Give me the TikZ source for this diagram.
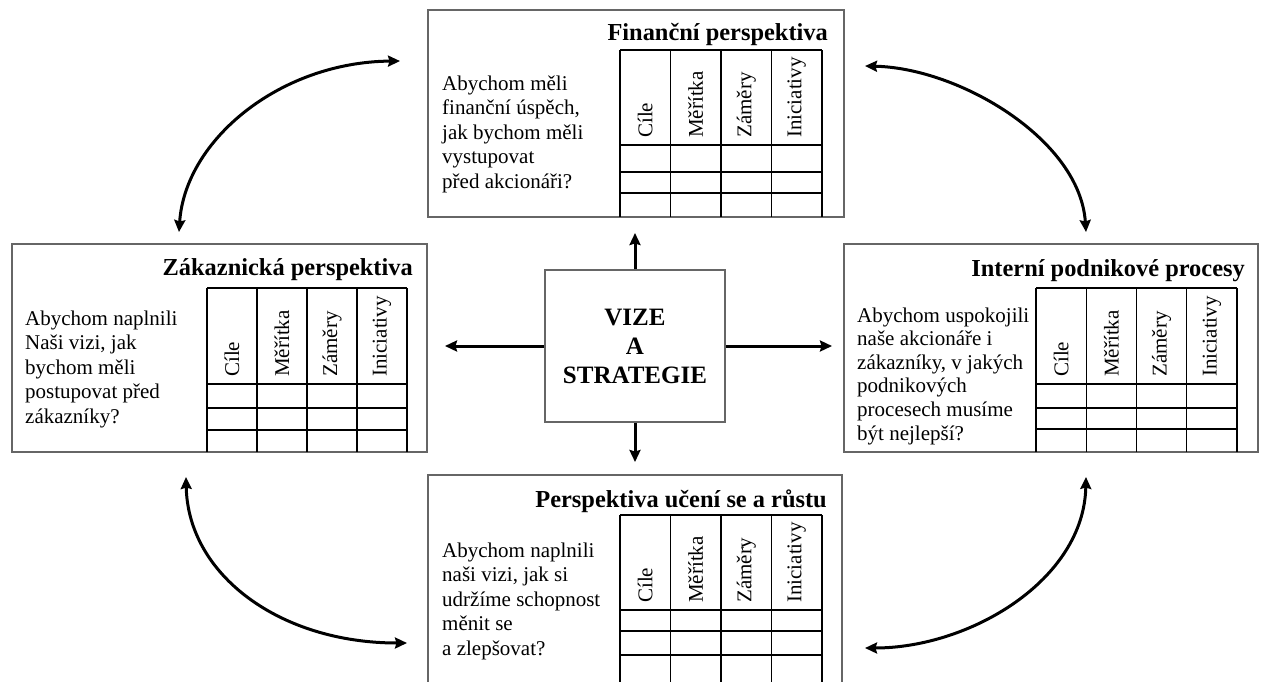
\documentclass[tikz,border=0pt]{standalone}
\usepackage{fontspec}
\setmainfont{Liberation Serif}
\usetikzlibrary{arrows.meta}

% grid of one perspective: name prefix, x left, x right, y top, y header, y row1, y row2, y bottom
\newcommand\bscgrid[8]{%
  \foreach \i in {0,...,4}
    \draw[gridline] ({#2+\i*(#3-#2)/4},#4) -- ({#2+\i*(#3-#2)/4},#8);
  \foreach \yy in {#4,#5,#6,#7}
    \draw[gridline] (#2,\yy) -- (#3,\yy);
  \foreach \lab [count=\k from 0] in {Cíle,Měřítka,Záměry,Iniciativy}
    \node[collabel] (#1-\k) at ({#2+(\k+0.5)*(#3-#2)/4},#5-7) {\lab};
}

\tikzset{
  panel/.style={draw=black!60, line width=1.5pt, fill=white, inner sep=0pt, rectangle},
  gridline/.style={black, line width=1.3pt},
  collabel/.style={rotate=90, anchor=west, inner sep=0pt, font=\fontsize{21}{24.5}\selectfont},
  ptitle/.style={anchor=base east, inner sep=0pt, font=\fontsize{24.4}{29}\selectfont\bfseries},
  qtext/.style={anchor=base west, inner sep=0pt, font=\fontsize{21}{24.5}\selectfont},
  vizebox/.style={panel, align=center, font=\fontsize{25}{29}\selectfont\bfseries},
  tip/.style={Stealth[length=12pt,width=11pt,inset=1.5pt]},
  flow/.style={line width=3pt, -{Stealth[length=12pt,width=11pt,inset=1.5pt]}},
  loop/.style={line width=3pt, {Stealth[length=12pt,width=11pt,inset=1.5pt]}-{Stealth[length=12pt,width=11pt,inset=1.5pt]}},
}

\begin{document}
\begin{tikzpicture}[x=1pt,y=-1pt]
\clip (0,0) rectangle (1264,681);
\fill[white] (0,0) rectangle (1264,681);

% the four perspectives
\node[panel, minimum width=416pt, minimum height=207pt] (fin) at (636,113.5) {};
\node[panel, minimum width=415pt, minimum height=208pt] (cust) at (219.5,348) {};
\node[panel, minimum width=414pt, minimum height=208pt] (proc) at (1051,348) {};
\node[panel, minimum width=414pt, minimum height=215pt] (learn) at (635,582.5) {};

% vision and strategy in the middle
\node[vizebox, minimum width=180pt, minimum height=152pt] (vize) at (635,346) {VIZE\\A\\STRATEGIE};

% tables
\bscgrid{finT}{620}{822}{50}{145}{172}{193}{217}
\bscgrid{custT}{207}{407}{288}{384}{408}{430}{452}
\bscgrid{procT}{1036}{1237}{288}{384}{408}{429}{452}
\bscgrid{learnT}{620}{822}{515}{610}{631}{655}{690}

% titles
\node[ptitle] (finH) at (828,40) {Finanční perspektiva};
\node[ptitle] (custH) at (413,275) {Zákaznická perspektiva};
\node[ptitle] (procH) at (1245,276) {Interní podnikové procesy};
\node[ptitle] (learnH) at (827,507) {Perspektiva učení se a růstu};

% questions
\node[qtext] (finQ) at (442,90) {\vtop{\hbox{Abychom měli}\hbox{finanční úspěch,}\hbox{jak bychom měli}\hbox{vystupovat}\hbox{před akcionáři?}}};
\node[qtext] (custQ) at (25,325) {\vtop{\hbox{Abychom naplnili}\hbox{Naši vizi, jak}\hbox{bychom měli}\hbox{postupovat před}\hbox{zákazníky?}}};
\node[qtext] (procQ) at (857,322) {\vtop{\baselineskip=23.6pt\hbox{Abychom uspokojili}\hbox{naše akcionáře i}\hbox{zákazníky, v jakých}\hbox{podnikových}\hbox{procesech musíme}\hbox{být nejlepší?}}};
\node[qtext] (learnQ) at (442,557) {\vtop{\hbox{Abychom naplnili}\hbox{naši vizi, jak si}\hbox{udržíme schopnost}\hbox{měnit se}\hbox{a zlepšovat?}}};

% arrow ends
\coordinate (upTip) at (635,233);
\coordinate (downTip) at (635,462);
\coordinate (leftTip) at (445,346);
\coordinate (rightTip) at (832,346);
\coordinate (tlA) at (179,232);
\coordinate (tlB) at (400,61);
\coordinate (trA) at (865,66);
\coordinate (trB) at (1086,232);
\coordinate (blA) at (186,477);
\coordinate (blB) at (407,643);
\coordinate (brA) at (865,648);
\coordinate (brB) at (1086,477);

% straight arrows from the centre
\draw[flow] (vize.north) -- (upTip);
\draw[flow] (vize.south) -- (downTip);
\draw[flow] (vize.west) -- (leftTip);
\draw[flow] (vize.east) -- (rightTip);

% curved links between the perspectives
\draw[loop] (tlA) .. controls (185,140) and (280,62) .. (tlB);
\draw[loop] (trA) .. controls (960,68) and (1080,140) .. (trB);
\draw[loop] (blA) .. controls (188,575) and (280,643) .. (blB);
\draw[loop] (brA) .. controls (970,648) and (1084,580) .. (brB);
\end{tikzpicture}
\end{document}
